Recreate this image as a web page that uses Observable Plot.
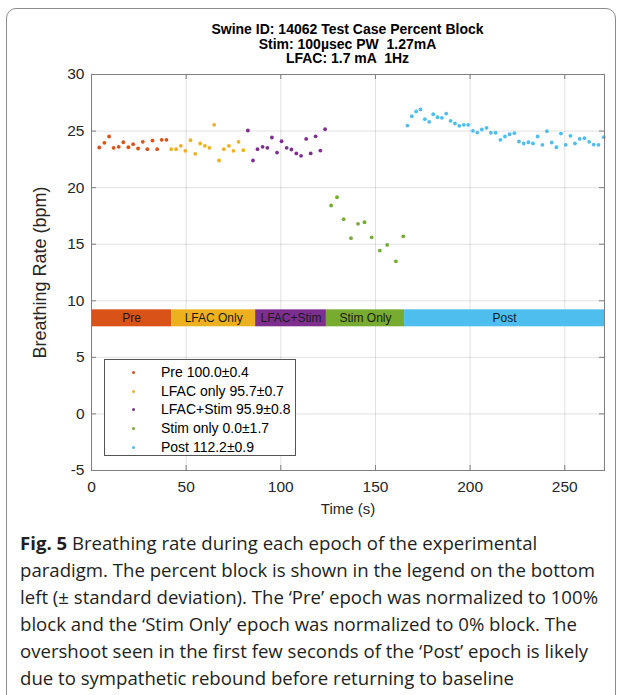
<!DOCTYPE html>
<html><head><meta charset="utf-8">
<script src="https://cdn.jsdelivr.net/npm/d3@7"></script>
<script src="https://cdn.jsdelivr.net/npm/@observablehq/plot@0.6"></script>
<style>
body{margin:0;background:#fff;width:622px;height:695px;overflow:hidden;position:relative;font-family:"Liberation Sans",Arial,sans-serif;}
#frame{position:absolute;left:6px;top:8px;width:608px;height:740px;border:1.5px solid #8c8c8c;border-radius:10px;}
#chart{position:absolute;left:0;top:0;}
#title{position:absolute;left:91px;width:513px;top:22px;text-align:center;font-weight:bold;font-size:14px;line-height:14.5px;color:#000;}
#legend{position:absolute;left:104px;top:359px;width:192px;height:97px;border:1px solid #555;background:#fff;box-sizing:border-box;padding-top:3px;}
.li{position:relative;height:18.7px;line-height:18.7px;font-size:14px;color:#000;white-space:nowrap;}
.li .dot{position:absolute;left:27px;top:8px;width:3px;height:3px;border-radius:50%;}
.li .tx{position:absolute;left:56px;top:0;}
#caption{position:absolute;left:20px;top:529px;font-family:"Open Sans",sans-serif;font-size:18.6px;line-height:27px;color:#231f20;white-space:nowrap;}
#caption b{font-weight:bold;}
</style></head>
<body>
<div id="frame"></div>
<div id="chart"></div>
<div id="title"></div>
<div id="legend"></div>
<div id="caption"></div>
<script>
// ---- data ----
const titleLines = ["Swine ID: 14062 Test Case Percent Block", "Stim: 100µsec PW  1.27mA", "LFAC: 1.7 mA  1Hz"];
const xTicks = [0, 50, 100, 150, 200, 250];
const yTicks = [-5, 0, 5, 10, 15, 20, 25, 30];
const xDomain = [0, 271];
const yDomain = [-5, 30];

const preT = [4.1, 6.8, 9.3, 11.7, 14.4, 16.8, 19.5, 22.0, 24.6, 27.1, 29.5, 32.2, 34.7, 37.1, 39.6];
const preV = [23.55, 23.96, 24.52, 23.52, 23.61, 24.01, 23.57, 23.84, 23.46, 24.05, 23.40, 24.16, 23.40, 24.23, 24.23];

const lfacT = [42.1, 44.7, 47.2, 49.6, 52.3, 54.8, 57.4, 59.9, 62.3, 64.8, 67.4, 69.9, 72.6, 75.0, 77.7, 80.2];
const lfacV = [23.40, 23.40, 23.70, 23.25, 24.19, 22.99, 23.90, 23.70, 23.52, 25.55, 22.40, 23.40, 23.70, 23.25, 24.05, 23.31];

const lsT = [82.6, 85.3, 87.7, 90.4, 92.9, 95.3, 98.0, 100.4, 103.1, 105.6, 108.2, 110.7, 113.4, 115.8, 118.4, 120.9, 123.4];
const lsV = [25.05, 22.40, 23.40, 23.61, 23.52, 24.43, 23.10, 24.10, 23.52, 23.37, 23.02, 22.81, 24.31, 23.02, 24.54, 23.28, 25.16];

const stimT = [126.6, 129.7, 133.2, 137.1, 140.8, 144.2, 148.0, 152.3, 156.2, 160.8, 164.7];
const stimV = [18.42, 19.15, 17.21, 15.53, 16.80, 16.94, 15.61, 14.44, 14.94, 13.49, 15.70];

const postT = [166.9, 169.2, 171.5, 173.8, 176.1, 178.4, 180.5, 182.8, 185.1, 187.4, 189.7, 192.0, 194.3, 196.7, 199.0,
  201.5, 203.8, 206.2, 208.7, 211.0, 213.5, 216.0, 218.4, 220.9, 223.4, 225.8, 228.3, 230.8, 233.2, 235.7,
  238.2, 240.6, 243.1, 245.6, 248.0, 250.5, 253.0, 255.4, 257.9, 260.4, 262.9, 265.3, 267.8, 270.6];
const postV = [25.49, 26.31, 26.73, 26.91, 26.05, 25.82, 26.49, 26.22, 26.17, 26.55, 25.91, 25.67, 25.46, 25.55, 25.55,
  25.02, 24.87, 25.14, 25.29, 24.85, 24.85, 24.23, 24.52, 24.72, 24.81, 24.08, 23.90, 24.01, 23.90, 24.52,
  23.78, 24.99, 23.99, 23.57, 24.78, 23.78, 24.58, 23.90, 24.31, 24.37, 24.05, 23.81, 23.78, 24.46];

const epochNames = ["Pre", "LFAC Only", "LFAC+Stim", "Stim Only", "Post"];
const epochStart = [0, 42.4, 86.7, 124.1, 165.4];
const epochEnd = [42.4, 86.7, 124.1, 165.4, 271];
const epochColors = ["#D95319", "#EDB120", "#7E2F8E", "#77AC30", "#4DBEEE"];
const bandLow = 7.7, bandHigh = 9.2;

const legendLabels = ["Pre 100.0±0.4", "LFAC only 95.7±0.7", "LFAC+Stim 95.9±0.8", "Stim only 0.0±1.7", "Post 112.2±0.9"];

const captionBold = "Fig. 5";
const captionLines = [
  " Breathing rate during each epoch of the experimental",
  "paradigm. The percent block is shown in the legend on the bottom",
  "left (± standard deviation). The ‘Pre’ epoch was normalized to 100%",
  "block and the ‘Stim Only’ epoch was normalized to 0% block. The",
  "overshoot seen in the first few seconds of the ‘Post’ epoch is likely",
  "due to sympathetic rebound before returning to baseline"
];

// ---- build tables ----
const series = [[preT, preV], [lfacT, lfacV], [lsT, lsV], [stimT, stimV], [postT, postV]];
const points = series.flatMap(([T, V], k) => T.map((t, i) => ({t, v: V[i], color: epochColors[k]})));
const bands = epochNames.map((name, k) => ({label: name, start: epochStart[k], end: epochEnd[k], color: epochColors[k]}));

const frameGray = "#7f7f7f";
const chart = Plot.plot({
  width: 622, height: 520,
  marginLeft: 91, marginRight: 18, marginTop: 74, marginBottom: 50,
  x: {domain: xDomain},
  y: {domain: yDomain},
  style: {fontFamily: "'Liberation Sans', Arial, sans-serif", fontSize: "15.5px", color: "#262626", background: "transparent", overflow: "visible"},
  marks: [
    Plot.gridX(xTicks, {stroke: "#000", strokeOpacity: 0.12}),
    Plot.gridY(yTicks, {stroke: "#000", strokeOpacity: 0.12}),
    Plot.rect(bands, {x1: "start", x2: "end", y1: bandLow, y2: bandHigh, fill: "color"}),
    Plot.text(bands, {x: d => (d.start + d.end) / 2, y: (bandLow + bandHigh) / 2, text: "label", fontSize: 12, fill: "#1a1a1a"}),
    Plot.dot(points, {x: "t", y: "v", r: 1.9, fill: "color", stroke: null}),
    Plot.frame({stroke: frameGray}),
    Plot.ruleX(xTicks, {x: d => d, y1: yDomain[0], y2: yDomain[0], insetBottom: 5, stroke: frameGray}),
    Plot.ruleX(xTicks, {x: d => d, y1: yDomain[1], y2: yDomain[1], insetTop: 5, stroke: frameGray}),
    Plot.ruleY(yTicks, {y: d => d, x1: xDomain[0], x2: xDomain[0], insetLeft: 5, stroke: frameGray}),
    Plot.ruleY(yTicks, {y: d => d, x1: xDomain[1], x2: xDomain[1], insetRight: 5, stroke: frameGray}),
    Plot.axisX(xTicks, {tickSize: 0, tickPadding: 10, fontSize: 15.5, tickFormat: d => String(d), label: null}),
    Plot.axisY(yTicks, {tickSize: 0, tickPadding: 7, fontSize: 15.5, tickFormat: d => String(d), label: null}),
    Plot.axisX({tickSize: 0, ticks: [], fontSize: 15, label: "Time (s)", labelAnchor: "center", labelOffset: 43, labelArrow: "none"}),
    Plot.axisY({tickSize: 0, ticks: [], fontSize: 18, label: "Breathing Rate (bpm)", labelAnchor: "center", labelOffset: 58, labelArrow: "none"})
  ]
});
document.getElementById("chart").appendChild(chart);

document.getElementById("title").innerHTML = titleLines.map(s => `<div style="white-space:pre">${s}</div>`).join("");

document.getElementById("legend").innerHTML = legendLabels.map((s, k) =>
  `<div class="li"><span class="dot" style="background:${epochColors[k]}"></span><span class="tx">${s}</span></div>`).join("");

document.getElementById("caption").innerHTML = captionLines.map((s, i) =>
  `<div>${i === 0 ? `<b>${captionBold}</b>` : ""}${s}</div>`).join("");
</script>
</body></html>
